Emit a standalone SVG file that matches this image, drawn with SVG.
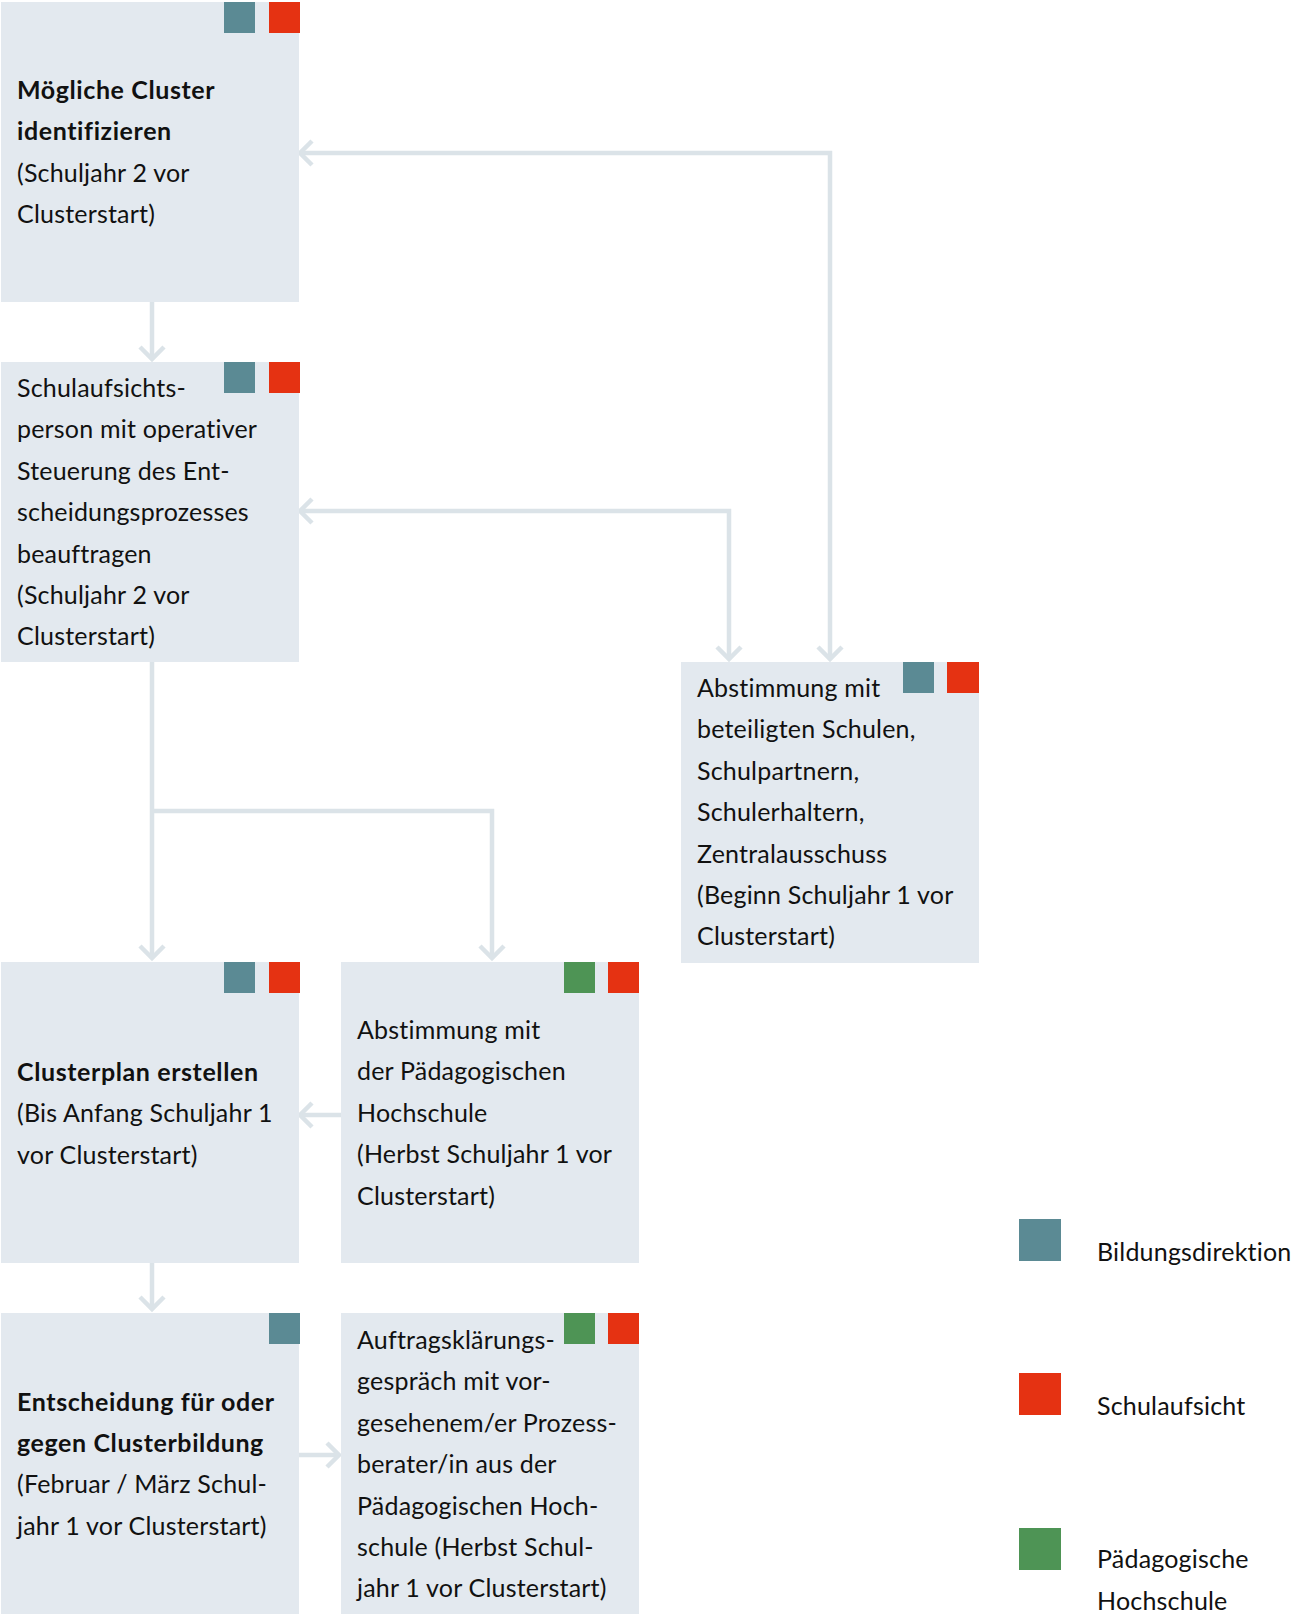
<svg xmlns="http://www.w3.org/2000/svg" width="1297" height="1614" viewBox="0 0 1297 1614">
<defs>
<style>
.box{fill:#e3e9ef}
.bd{fill:#5b8a94}
.sa{fill:#e53212}
.ph{fill:#4e9455}
text{font-family:"Lato","Liberation Sans",sans-serif;font-size:25px;fill:#111;font-variant-ligatures:none;letter-spacing:0.2px}
.b{font-weight:bold;letter-spacing:0.6px}
.con{fill:none;stroke:#dbe3e8;stroke-width:4.5}
.ah{fill:none;stroke:#dbe3e8;stroke-width:4.5;stroke-linejoin:miter}
</style>
<marker id="arr" markerUnits="userSpaceOnUse" viewBox="-16 -16 20 32" refX="0" refY="0" markerWidth="20" markerHeight="32" orient="auto-start-reverse" overflow="visible">
<path class="ah" d="M-12,-12 L0,0 L-12,12"/>
</marker>
</defs>
<rect width="1297" height="1614" fill="#fff"/>

<g id="connectors">
<path class="con" d="M152,302 V359" marker-end="url(#arr)"/>
<path class="con" d="M300,153 H830 V659" marker-start="url(#arr)" marker-end="url(#arr)"/>
<path class="con" d="M300,511 H729 V659" marker-start="url(#arr)" marker-end="url(#arr)"/>
<path class="con" d="M152,661 V958" marker-end="url(#arr)"/>
<path class="con" d="M152,811 H492 V958" marker-end="url(#arr)"/>
<path class="con" d="M341,1115 H300" marker-end="url(#arr)"/>
<path class="con" d="M152,1263 V1309" marker-end="url(#arr)"/>
<path class="con" d="M299,1455 H339" marker-end="url(#arr)"/>
</g>

<g id="n1">
<rect class="box" x="1" y="2" width="298" height="300"/>
<rect class="bd" x="224" y="2" width="31" height="31"/>
<rect class="sa" x="269" y="2" width="31" height="31"/>
<text x="17" y="99" class="b">Mögliche Cluster</text>
<text x="17" y="140.4" class="b">identifizieren</text>
<text x="17" y="181.8">(Schuljahr 2 vor</text>
<text x="17" y="223.2">Clusterstart)</text>
</g>

<g id="n2">
<rect class="box" x="1" y="362" width="298" height="300"/>
<rect class="bd" x="224" y="362" width="31" height="31"/>
<rect class="sa" x="269" y="362" width="31" height="31"/>
<text x="17" y="397">Schulaufsichts-</text>
<text x="17" y="438.4">person mit operativer</text>
<text x="17" y="479.8">Steuerung des Ent-</text>
<text x="17" y="521.2">scheidungsprozesses</text>
<text x="17" y="562.6">beauftragen</text>
<text x="17" y="604">(Schuljahr 2 vor</text>
<text x="17" y="645.4">Clusterstart)</text>
</g>

<g id="n3">
<rect class="box" x="681" y="662" width="298" height="301"/>
<rect class="bd" x="903" y="662" width="31" height="31"/>
<rect class="sa" x="947" y="662" width="32" height="31"/>
<text x="697" y="697">Abstimmung mit</text>
<text x="697" y="738.4">beteiligten Schulen,</text>
<text x="697" y="779.8">Schulpartnern,</text>
<text x="697" y="821.2">Schulerhaltern,</text>
<text x="697" y="862.6">Zentralausschuss</text>
<text x="697" y="904">(Beginn Schuljahr 1 vor</text>
<text x="697" y="945.4">Clusterstart)</text>
</g>

<g id="n4">
<rect class="box" x="1" y="962" width="298" height="301"/>
<rect class="bd" x="224" y="962" width="31" height="31"/>
<rect class="sa" x="269" y="962" width="31" height="31"/>
<text x="17" y="1081" class="b">Clusterplan erstellen</text>
<text x="17" y="1122.4">(Bis Anfang Schuljahr 1</text>
<text x="17" y="1163.8">vor Clusterstart)</text>
</g>

<g id="n5">
<rect class="box" x="341" y="962" width="298" height="301"/>
<rect class="ph" x="564" y="962" width="31" height="31"/>
<rect class="sa" x="608" y="962" width="31" height="31"/>
<text x="357" y="1039">Abstimmung mit</text>
<text x="357" y="1080.4">der Pädagogischen</text>
<text x="357" y="1121.8">Hochschule</text>
<text x="357" y="1163.2">(Herbst Schuljahr 1 vor</text>
<text x="357" y="1204.6">Clusterstart)</text>
</g>

<g id="n6">
<rect class="box" x="1" y="1313" width="298" height="301"/>
<rect class="bd" x="269" y="1313" width="31" height="31"/>
<text x="17" y="1410.5" class="b">Entscheidung für oder</text>
<text x="17" y="1451.9" class="b">gegen Clusterbildung</text>
<text x="17" y="1493.3">(Februar / März Schul-</text>
<text x="17" y="1534.7">jahr 1 vor Clusterstart)</text>
</g>

<g id="n7">
<rect class="box" x="341" y="1313" width="298" height="301"/>
<rect class="ph" x="564" y="1313" width="31" height="31"/>
<rect class="sa" x="608" y="1313" width="31" height="31"/>
<text x="357" y="1349">Auftragsklärungs-</text>
<text x="357" y="1390.4">gespräch mit vor-</text>
<text x="357" y="1431.8">gesehenem/er Prozess-</text>
<text x="357" y="1473.2">berater/in aus der</text>
<text x="357" y="1514.6">Pädagogischen Hoch-</text>
<text x="357" y="1556">schule (Herbst Schul-</text>
<text x="357" y="1597.4">jahr 1 vor Clusterstart)</text>
</g>

<g id="legend">
<rect class="bd" x="1019" y="1219" width="42" height="42"/>
<text x="1097" y="1261">Bildungsdirektion</text>
<rect class="sa" x="1019" y="1373" width="42" height="42"/>
<text x="1097" y="1415">Schulaufsicht</text>
<rect class="ph" x="1019" y="1528" width="42" height="42"/>
<text x="1097" y="1568">Pädagogische</text>
<text x="1097" y="1610">Hochschule</text>
</g>
</svg>
